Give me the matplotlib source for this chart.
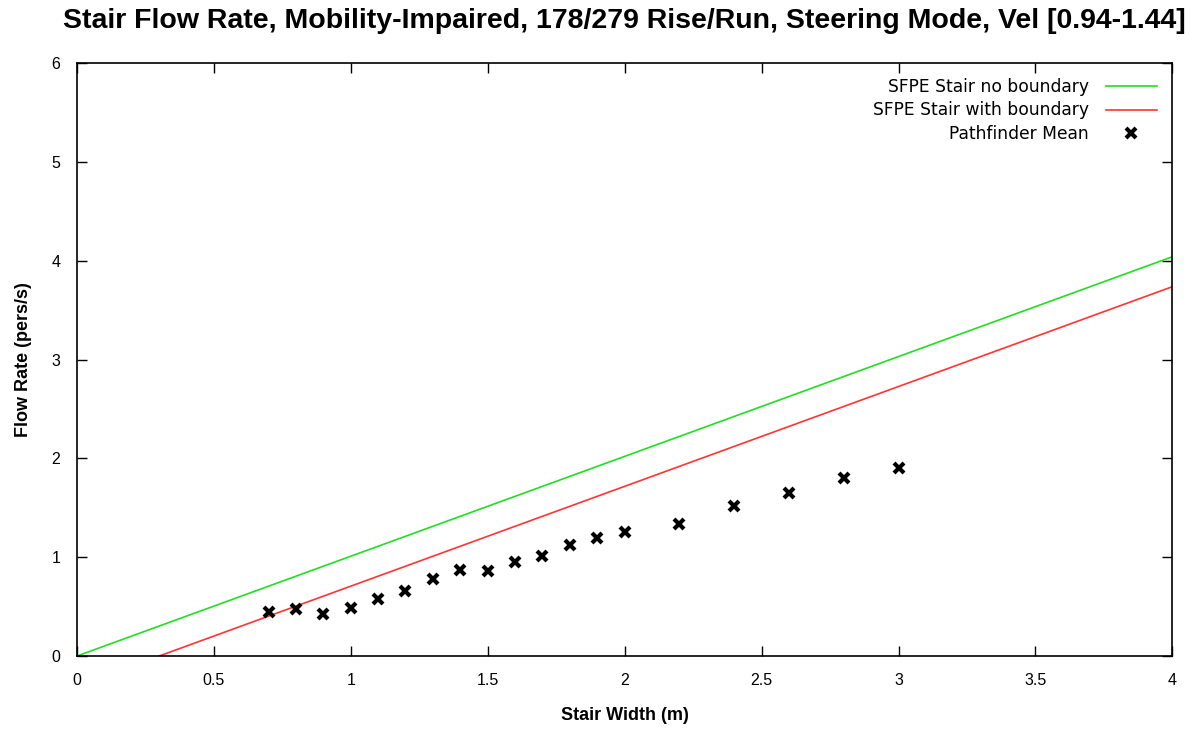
import matplotlib.pyplot as plt
import numpy as np

# SFPE specific flow for 178/279 stairs (pers/s/m)
sfpe_fs = 1.01
boundary = 0.3
line_x = [0.0, 4.0]
line_x_bound = [0.3, 4.0]

widths = [0.7, 0.8, 0.9, 1.0, 1.1, 1.2, 1.3, 1.4, 1.5, 1.6, 1.7, 1.8, 1.9, 2.0,
          2.2, 2.4, 2.6, 2.8, 3.0]
flow_mean = [0.45, 0.48, 0.43, 0.49, 0.58, 0.66, 0.78, 0.87, 0.86, 0.95, 1.01,
             1.12, 1.19, 1.26, 1.34, 1.52, 1.65, 1.80, 1.90]

plt.rcParams["font.family"] = ["Liberation Sans", "DejaVu Sans"]

fig = plt.figure(figsize=(12, 7.29), dpi=100)
ax = fig.add_axes([0.064, 0.1, 0.913, 0.8136])

ax.plot(line_x, [sfpe_fs * x for x in line_x], color="#22dd22", lw=1.2,
        label="SFPE Stair no boundary")
ax.plot(line_x_bound, [sfpe_fs * (x - boundary) for x in line_x_bound],
        color="#ff3333", lw=1.2, label="SFPE Stair with boundary")
ax.plot(widths, flow_mean, "x", color="black", ms=7.5, mew=3,
        label="Pathfinder Mean")

ax.set_xlim(0, 4)
ax.set_ylim(0, 6)
ax.set_xticks(np.arange(0, 4.01, 0.5))
ax.set_xticklabels(["0", "0.5", "1", "1.5", "2", "2.5", "3", "3.5", "4"])
ax.set_yticks(range(0, 7))
ax.tick_params(direction="in", top=True, right=True, length=7, width=1,
               labelsize=11.5)
ax.tick_params(axis="x", pad=12)
ax.tick_params(axis="y", pad=12)
for s in ax.spines.values():
    s.set_linewidth(1.2)

ax.set_xlabel("Stair Width (m)", fontsize=13, fontweight="bold", labelpad=14)
ax.set_ylabel("Flow Rate (pers/s)", fontsize=13, fontweight="bold", labelpad=14)
ax.set_title("Stair Flow Rate, Mobility-Impaired, 178/279 Rise/Run, Steering Mode, Vel [0.94-1.44]",
             fontsize=20.5, fontweight="bold", pad=25)

leg = ax.legend(loc="upper right", frameon=False, markerfirst=False,
                prop={"family": "DejaVu Sans", "size": 12.3}, handlelength=3.0,
                borderaxespad=0.5, labelspacing=0.3, handletextpad=1.0)

plt.savefig("out.png", dpi=100)
